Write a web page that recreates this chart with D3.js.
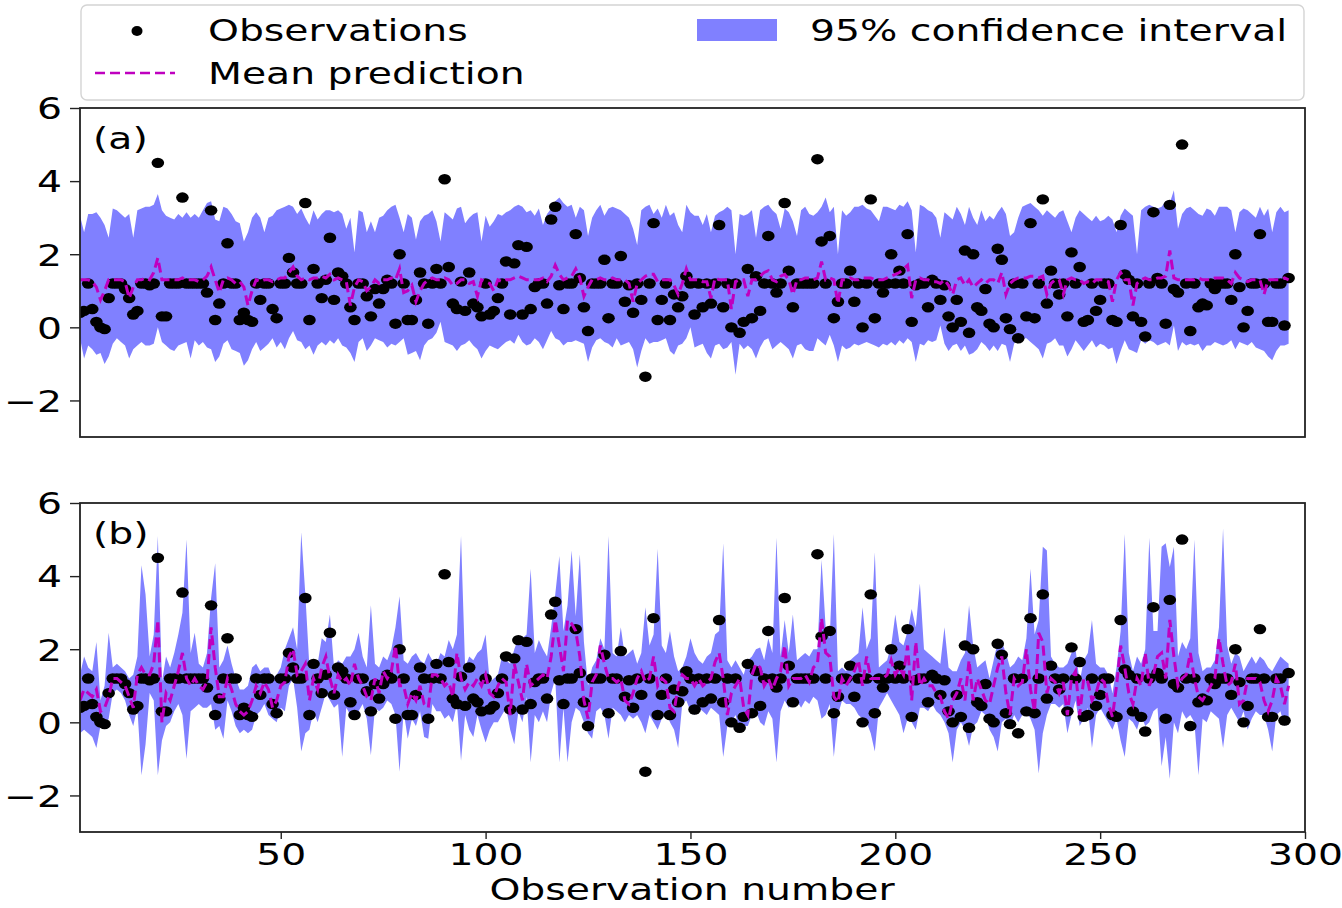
<!DOCTYPE html>
<html>
<head>
<meta charset="utf-8">
<script src="https://cdn.jsdelivr.net/npm/d3@7"></script>
<style>
  body { margin: 0; background: #fff; }
  svg text { font-family: "DejaVu Sans", sans-serif; fill: #000; }
</style>
</head>
<body>
<svg width="1342" height="908"></svg>
<script>
// ==================== DATA ====================
// observation values (same in both panels), observation number = index + 1
var obs = [
  0.4, 0.45, 1.2, 0.5, 0.15, 0.0, -0.05, 0.8, 1.2, 1.2,
  1.2, 1.05, 0.8, 0.35, 0.45, 1.2, 1.2, 1.15, 1.2, 4.5,
  0.3, 0.3, 1.2, 1.2, 1.2, 3.55, 1.2, 1.2, 1.2, 1.2,
  1.2, 0.95, 3.2, 0.2, 0.65, 1.2, 2.3, 1.2, 1.2, 0.2,
  0.4, 0.2, 0.15, 1.2, 0.75, 1.2, 1.2, 0.5, 0.25, 1.2,
  1.2, 1.9, 1.5, 1.2, 1.2, 3.4, 0.2, 1.6, 1.2, 0.8,
  1.3, 2.45, 0.75, 1.5, 1.4, 1.2, 0.55, 0.2, 1.2, 1.2,
  0.85, 0.3, 1.05, 0.65, 1.05, 1.3, 1.2, 0.1, 2.0, 1.2,
  0.2, 0.2, 0.75, 1.5, 1.2, 0.1, 1.2, 1.6, 1.2, 4.05,
  1.65, 0.65, 0.5, 1.25, 0.45, 1.5, 0.65, 0.55, 0.3, 1.2,
  0.35, 0.45, 0.8, 1.2, 1.8, 0.35, 1.75, 2.25, 0.35, 2.2,
  0.5, 1.1, 1.2, 1.2, 0.65, 2.95, 3.3, 1.15, 0.5, 1.2,
  1.2, 2.55, 1.35, 0.55, -0.1, 1.2, 1.2, 1.2, 1.85, 0.25,
  1.2, 1.2, 1.95, 0.7, 1.15, 0.4, 1.2, 0.75, -1.35, 1.2,
  2.85, 0.2, 0.75, 1.2, 0.2, 0.9, 0.55, 0.85, 1.4, 1.2,
  0.35, 1.2, 0.55, 1.2, 0.65, 1.2, 2.8, 0.55, 1.2, 0.0,
  1.2, -0.15, 0.15, 1.6, 0.25, 1.4, 0.45, 1.2, 2.5, 1.2,
  0.95, 1.2, 3.4, 1.55, 0.55, 1.2, 1.2, 1.2, 1.2, 1.2,
  4.6, 2.35, 1.2, 2.5, 0.25, 0.7, 1.2, 1.2, 1.55, 0.7,
  1.2, 0.0, 1.2, 3.5, 0.25, 1.2, 0.95, 1.2, 2.0, 1.2,
  1.55, 1.2, 2.55, 0.15, 1.15, 1.2, 1.2, 0.55, 1.3, 1.2,
  0.75, 1.15, 0.3, 0.0, 0.75, 0.15, 2.1, -0.15, 2.0, 0.55,
  0.45, 1.05, 0.1, 0.0, 2.15, 1.85, 0.25, -0.05, 1.2, -0.3,
  1.2, 0.3, 2.85, 0.25, 1.2, 3.5, 0.65, 1.55, 1.2, 0.9,
  1.2, 0.3, 2.05, 1.2, 1.65, 0.15, 0.2, 1.2, 0.45, 0.75,
  1.2, 1.2, 0.2, 0.15, 2.8, 1.45, 1.3, 0.3, 1.2, 0.15,
  -0.25, 1.2, 3.15, 1.35, 1.2, 0.1, 3.35, 1.05, 0.95, 5.0,
  1.2, -0.1, 1.2, 0.55, 0.65, 0.6, 1.2, 1.05, 1.2, 1.2,
  1.2, 0.75, 2.0, 1.1, 0.0, 0.45, 1.2, 1.2, 2.55, 1.2,
  0.15, 0.15, 1.2, 1.2, 0.05, 1.35
];

// panel (a): mean prediction and 95% interval
var meanA = [
  1.3, 1.3, 1.3, 1.25, 1.1, 0.75, 1.0, 1.3, 1.3, 1.3,
  1.3, 1.25, 0.8, 1.1, 1.3, 1.3, 1.35, 1.3, 1.5, 1.9,
  1.3, 1.3, 1.3, 1.3, 1.3, 1.35, 1.3, 1.3, 1.3, 1.25,
  1.3, 1.4, 1.65, 1.3, 0.95, 1.3, 1.35, 1.3, 1.2, 1.25,
  1.1, 0.6, 1.0, 1.3, 1.25, 1.3, 1.3, 1.25, 1.3, 1.35,
  1.35, 1.5, 1.65, 1.4, 1.3, 1.35, 1.3, 1.35, 1.35, 1.4,
  1.35, 1.45, 1.3, 1.35, 1.3, 1.25, 0.6, 1.1, 1.3, 1.25,
  1.0, 1.1, 1.3, 1.2, 1.3, 1.3, 1.35, 1.3, 1.6, 0.95,
  1.0, 1.15, 0.7, 1.0, 1.2, 1.3, 1.35, 1.3, 1.3, 1.35,
  1.3, 1.15, 1.2, 1.3, 1.3, 1.2, 1.25, 0.85, 1.3, 1.25,
  1.2, 1.0, 1.3, 1.25, 1.3, 1.3, 1.35, 1.4, 1.35, 1.3,
  1.3, 1.3, 1.3, 1.35, 1.25, 1.4, 1.7, 1.45, 1.3, 1.35,
  1.4, 1.6, 1.35, 0.85, 1.1, 1.3, 1.3, 1.35, 1.3, 1.3,
  1.35, 1.3, 1.3, 1.3, 1.2, 0.7, 1.2, 1.3, 1.4, 1.45,
  1.45, 1.25, 1.3, 1.3, 1.3, 1.15, 0.9, 1.2, 1.6, 1.3,
  1.3, 1.3, 1.25, 1.25, 0.8, 1.35, 1.3, 1.3, 1.3, 0.5,
  1.25, 1.3, 1.3, 0.85, 1.3, 1.3, 1.4, 1.5, 1.55, 1.3,
  1.25, 1.4, 1.45, 1.3, 0.9, 1.3, 1.3, 1.35, 1.35, 1.3,
  1.35, 1.8, 1.3, 1.35, 1.3, 0.65, 1.3, 1.3, 1.35, 1.3,
  1.3, 1.35, 1.35, 1.35, 1.3, 1.3, 1.3, 1.35, 1.4, 1.45,
  1.5, 1.6, 1.7, 0.8, 1.3, 1.35, 1.3, 1.3, 1.25, 1.25,
  1.2, 1.3, 1.15, 0.9, 1.3, 1.35, 1.15, 1.3, 1.1, 1.2,
  1.3, 1.2, 1.3, 1.3, 1.2, 1.5, 0.9, 1.2, 1.3, 1.35,
  1.35, 1.35, 1.4, 1.4, 1.35, 1.4, 0.9, 1.2, 1.3, 1.3,
  0.9, 1.3, 1.35, 1.3, 1.3, 1.2, 1.25, 1.2, 1.3, 1.3,
  1.3, 1.25, 0.7, 1.3, 1.5, 1.3, 1.3, 0.6, 1.2, 1.3,
  1.35, 1.3, 1.3, 1.35, 1.35, 1.4, 2.1, 1.35, 1.3, 1.3,
  1.3, 1.3, 1.3, 1.35, 1.3, 1.3, 1.3, 1.35, 1.35, 1.35,
  1.3, 1.2, 1.5, 1.35, 1.3, 1.25, 1.3, 1.3, 1.3, 0.9,
  1.3, 1.3, 1.3, 1.3, 1.35, 1.3
];
var hiA = [
  3.05, 2.6, 3.1, 3.1, 3.15, 3.0, 2.8, 2.45, 3.25, 3.2,
  3.1, 3.0, 3.1, 2.45, 3.2, 3.25, 3.3, 3.3, 3.35, 3.65,
  3.2, 3.05, 3.0, 2.95, 3.1, 3.0, 3.15, 3.0, 3.1, 3.0,
  3.2, 3.4, 3.45, 2.95, 2.9, 3.3, 3.25, 3.1, 2.9, 2.85,
  2.35, 2.6, 3.0, 3.15, 3.0, 2.6, 3.0, 3.05, 3.2, 3.25,
  3.3, 3.35, 3.3, 3.1, 3.25, 3.0, 2.8, 3.2, 2.95, 3.1,
  3.2, 3.2, 3.15, 3.2, 3.1, 2.7, 3.0, 2.05, 3.2, 3.15,
  2.6, 2.9, 2.6, 3.0, 3.05, 3.2, 3.3, 3.35, 3.0, 2.6,
  3.1, 3.0, 2.4, 2.9, 3.05, 3.1, 3.2, 2.9, 2.35, 3.15,
  3.05, 2.95, 3.25, 3.3, 2.85, 3.0, 3.1, 3.15, 2.35, 3.05,
  2.75, 2.9, 3.1, 3.05, 3.15, 3.2, 3.3, 3.35, 3.3, 3.15,
  3.2, 3.05, 3.25, 2.8, 3.1, 3.25, 3.45, 3.55, 3.4, 3.3,
  3.35, 3.0, 3.3, 3.2, 2.5, 3.0, 3.2, 3.35, 3.05, 3.25,
  3.3, 3.25, 3.2, 3.1, 3.0, 2.7, 2.25, 3.2, 3.3, 3.35,
  3.1, 3.25, 3.0, 3.35, 3.05, 3.15, 2.8, 2.6, 3.35, 3.15,
  3.05, 3.05, 2.8, 3.1, 2.6, 3.05, 3.15, 3.2, 3.3, 3.2,
  2.0, 3.1, 3.05, 3.1, 3.2, 2.45, 3.2, 3.3, 3.35, 3.2,
  3.1, 2.7, 3.25, 3.15, 2.9, 2.5, 3.2, 3.3, 3.1, 3.05,
  3.15, 3.3, 3.55, 3.15, 3.3, 2.0, 3.2, 3.05, 3.15, 3.3,
  3.3, 3.35, 3.25, 3.2, 3.05, 2.9, 3.3, 3.3, 3.25, 3.2,
  3.35, 3.3, 3.45, 3.2, 2.05, 3.35, 3.3, 3.2, 3.15, 3.0,
  2.45, 3.15, 3.05, 2.95, 3.3, 3.1, 2.8, 3.3, 3.0, 2.8,
  3.2, 2.9, 3.05, 2.95, 3.15, 3.3, 3.1, 2.5, 2.6, 3.0,
  3.3, 3.35, 3.4, 3.3, 3.2, 3.05, 3.2, 3.1, 3.0, 3.15,
  3.2, 2.9, 2.6, 3.0, 3.2, 3.1, 3.0, 2.9, 3.05, 2.9,
  2.95, 3.05, 2.95, 2.6, 3.05, 3.25, 3.15, 3.05, 2.0, 3.2,
  3.3, 3.35, 3.3, 3.25, 3.3, 3.45, 3.4, 3.75, 2.7, 3.1,
  3.25, 3.3, 3.2, 3.1, 3.05, 3.25, 3.2, 3.05, 3.3, 3.3,
  3.3, 3.2, 2.6, 3.15, 3.25, 3.2, 3.1, 3.0, 3.3, 3.05,
  3.25, 2.6, 3.15, 3.3, 3.15, 3.2
];
var loA = [
  -0.3, -0.85, -0.5, -0.6, -0.75, -0.7, -1.0, -0.8, -0.45, -0.3,
  -0.4, -0.5, -0.85, -0.6, -0.5, -0.4, -0.5, -0.5, -0.45, 0.0,
  -0.4, -0.5, -0.6, -0.65, -0.5, -0.45, -0.4, -0.85, -0.35, -0.5,
  -0.4, -0.55, -0.6, -0.95, -0.8, -0.45, -0.35, -0.6, -0.65, -0.7,
  -1.05, -0.9, -0.6, -0.4, -0.65, -0.55, -0.45, -0.3, -0.55, -0.4,
  -0.6, -0.3, -0.1, -0.35, -0.4, -0.6, -0.5, -0.75, -0.5, -0.4,
  -0.5, -0.35, -0.45, -0.3, -0.5, -0.55, -0.7, -0.95, -0.4, -0.3,
  -0.65, -0.5, -0.3, -0.35, -0.4, -0.55, -0.45, -0.5, -0.4, -0.3,
  -0.75, -0.7, -0.65, -0.9, -0.5, -0.35, -0.3, -0.15, 0.15, -0.4,
  -0.45, -0.5, -0.65, -0.5, -0.45, -0.35, -0.5, -0.6, -0.85, -0.65,
  -0.5, -0.55, -0.6, -0.5, -0.4, -0.35, -0.45, -0.2, -0.4, -0.5,
  -0.45, -0.3, -0.4, -0.6, -0.35, -0.1, -0.3, -0.35, -0.5, -0.4,
  -0.4, -0.35, -0.4, -0.45, -0.95, -0.55, -0.35, -0.3, -0.4, -0.45,
  -0.55, -0.3, -0.5, -0.45, -0.4, -0.6, -1.1, -0.65, -0.3, -0.45,
  -0.4, -0.4, -0.35, -0.3, -0.65, -0.75, -0.5, -0.45, -0.3, 0.0,
  -0.55, -0.5, -0.45, -0.7, -0.85, -0.5, -0.45, -0.6, -0.55, -0.4,
  -1.3, -0.45, -0.6, -0.5, -0.6, -0.85, -0.55, -0.35, -0.3, -0.6,
  -0.5, -0.4, -0.5, -0.6, -0.85, -0.5, -0.45, -0.6, -0.65, -0.65,
  -0.3, -0.4, -0.5, -0.2, -0.5, -0.95, -0.5, -0.6, -0.55, -0.45,
  -0.5, -0.45, -0.4, -0.45, -0.5, -0.55, -0.45, -0.5, -0.4, -0.5,
  -0.35, -0.45, -0.3, -0.4, -0.95, -0.45, -0.5, -0.35, -0.4, -0.35,
  0.05, -0.45, -0.65, -0.5, -0.45, -0.65, -0.5, -0.75, -0.7, -0.6,
  -0.4, -0.5, -0.65, -0.5, -0.65, -0.45, -0.5, -0.95, -0.45, -0.3,
  -0.3, -0.3, -0.4, -0.5, -0.6, -0.85, -0.45, -0.4, -0.3, -0.5,
  -0.5, -0.8, -0.6, -0.35, -0.5, -0.65, -0.5, -0.35, -0.55, -0.45,
  -0.5, -0.6, -0.55, -1.0, -0.65, -0.35, -0.6, -0.65, -0.7, -0.35,
  -0.45, -0.35, -0.4, -0.5, -0.45, -0.4, -0.5, 0.05, -0.65, -0.4,
  -0.5, -0.45, -0.5, -0.45, -0.65, -0.5, -0.5, -0.4, -0.45, -0.5,
  -0.45, -0.35, -0.6, -0.4, -0.45, -0.5, -0.4, -0.55, -0.6, -0.65,
  -0.8, -0.9, -0.65, -0.5, -0.5, -0.45
];

// panel (b): mean prediction and 95% interval
var meanB = [
  0.6, 0.9, 0.8, 0.7, 0.9, 0.3, 0.4, 0.7, 1.2, 1.2,
  1.1, 1.0, 0.7, 0.4, 1.3, 1.5, 1.3, 1.3, 1.6, 2.8,
  0.0, 0.8, 0.6, 1.0, 1.4, 1.9, 1.2, 1.0, 1.2, 1.0,
  0.9, 1.1, 2.6, 1.5, 0.7, 0.7, 1.2, 0.9, 0.5, 0.3,
  0.2, 0.3, 0.6, 1.0, 0.8, 1.1, 0.9, 0.4, 0.6, 1.0,
  1.1, 1.8, 2.0, 1.3, 1.4, 1.6, 0.6, 1.2, 0.9, 1.5,
  1.8, 1.2, 0.8, 1.3, 1.1, 1.2, 1.0, 1.6, 1.2, 1.0,
  0.7, 0.6, 1.2, 0.8, 1.4, 1.2, 1.4, 2.1, 1.0, 1.0,
  0.5, 0.8, 0.6, 1.0, 0.5, 0.4, 1.3, 1.3, 1.2, 1.0,
  1.1, 0.7, 1.9, 1.2, 0.9, 1.1, 1.0, 1.2, 1.0, 1.3,
  0.8, 0.7, 1.0, 1.2, 1.1, 0.2, 1.6, 1.1, 0.6, 1.6,
  1.0, 1.1, 1.2, 1.3, 1.2, 1.8, 2.8, 2.1, 1.4, 2.8,
  2.7, 2.5, 1.8, 0.6, 0.1, 1.1, 1.3, 2.1, 1.6, 1.2,
  1.2, 1.1, 1.2, 0.6, 0.5, 0.8, 1.2, 1.4, 1.1, 1.2,
  1.8, 1.0, 1.2, 1.1, 0.4, 0.3, 1.0, 1.3, 1.2, 1.2,
  1.0, 1.2, 1.0, 1.1, 1.2, 1.65, 1.9, 1.2, 0.2, 0.8,
  1.0, 1.2, 0.4, 0.2, 1.3, 1.6, 1.5, 1.0, 1.2, 0.9,
  1.2, 1.4, 2.1, 1.0, 1.2, 1.2, 1.2, 1.3, 1.1, 1.5,
  1.6, 2.85, 1.9, 1.8, 0.7, 0.55, 1.2, 1.0, 1.2, 1.4,
  1.7, 1.0, 1.8, 1.2, 1.2, 1.2, 1.2, 1.3, 1.7, 1.3,
  1.5, 1.3, 2.1, 0.6, 2.2, 1.0, 1.2, 1.0, 1.0, 0.8,
  0.7, 0.3, 0.1, 0.6, 0.8, 1.2, 0.6, 1.7, 0.6, 1.2,
  0.9, 0.6, 0.5, 1.0, 1.5, 1.8, 0.8, 0.2, 1.2, 1.0,
  1.1, 2.0, 0.9, 0.3, 2.45, 2.2, 0.8, 1.2, 1.1, 0.8,
  1.1, 0.2, 1.2, 1.4, 0.2, 1.2, 1.1, 0.6, 0.8, 1.2,
  1.1, 0.5, 0.15, 1.0, 2.1, 1.5, 0.8, 0.5, 1.2, 1.0,
  1.9, 1.0, 1.3, 1.8, 1.9, 1.2, 2.8, 1.8, 1.0, 1.2,
  1.3, 1.9, 1.2, 0.7, 0.6, 0.8, 1.0, 1.2, 2.3, 1.6,
  1.0, 1.1, 1.6, 0.5, 0.6, 1.2, 1.2, 1.2, 1.1, 0.6,
  0.3, 0.6, 1.2, 1.0, 0.5, 1.0
];
var hiB = [
  1.3, 1.8, 1.5, 1.4, 2.2, 0.6, 1.0, 2.45, 1.5, 1.6,
  1.5, 1.4, 1.2, 1.3, 1.8, 4.3, 3.5, 1.8, 2.4, 5.1,
  1.1, 1.8, 1.5, 1.9, 2.4, 3.0, 5.0, 1.9, 2.45, 1.6,
  1.5, 1.9, 3.4, 4.35, 1.5, 1.7, 2.1, 1.6, 1.2, 0.9,
  0.9, 1.0, 1.5, 1.6, 1.4, 1.5, 1.5, 1.2, 1.3, 1.5,
  2.0, 2.3, 2.6, 2.0, 5.2, 3.5, 1.5, 1.7, 1.6, 2.3,
  2.2, 2.95, 1.5, 1.7, 1.6, 1.8, 1.8, 2.0, 2.45, 1.8,
  1.5, 3.2, 1.6, 1.5, 1.8, 1.7, 2.0, 2.6, 3.45, 1.7,
  1.6, 1.8, 1.9, 1.7, 1.6, 1.9, 1.7, 1.6, 1.9, 1.8,
  2.25, 2.0, 2.4, 5.1, 1.5, 1.8, 1.7, 1.9, 2.0, 2.4,
  1.1, 1.2, 1.3, 1.8, 1.7, 1.6, 2.0, 2.3, 2.3, 2.4,
  4.2, 1.9, 2.25, 2.0, 1.8, 2.6, 3.5, 4.55, 2.5, 3.2,
  4.7, 2.9, 4.6, 2.2, 1.0, 1.5, 1.7, 2.3, 2.0, 5.1,
  1.9, 1.8, 2.6, 1.8, 1.9, 2.0, 1.6, 1.9, 3.15, 2.1,
  2.4, 4.75, 2.1, 1.9, 2.5, 1.8, 1.4, 1.5, 1.8, 2.3,
  1.9, 1.7, 1.6, 1.8, 1.9, 2.4, 2.5, 4.9, 1.7, 1.5,
  1.7, 1.5, 1.3, 1.7, 1.8, 2.0, 2.05, 1.7, 2.3, 1.9,
  5.05, 1.8, 2.8, 1.9, 2.95, 1.7, 1.8, 1.9, 1.8, 2.0,
  2.0, 4.45, 2.6, 2.3, 5.15, 1.4, 1.5, 1.4, 1.7, 1.8,
  1.9, 3.15, 2.0, 2.3, 4.65, 1.5, 1.6, 1.7, 2.1, 2.95,
  2.2, 2.1, 2.5, 3.1, 2.6, 3.8, 2.0, 1.9, 1.8, 1.7,
  1.6, 2.6, 1.5, 1.4, 1.4, 1.7, 1.9, 3.2, 2.1, 1.5,
  1.6, 1.7, 1.2, 1.7, 2.2, 2.2, 1.9, 1.5, 1.6, 1.8,
  1.7, 2.3, 4.2, 2.4, 2.8, 4.8, 4.7, 1.8, 1.6, 1.5,
  1.5, 1.6, 1.9, 2.0, 1.1, 1.7, 1.9, 2.8, 1.6, 1.5,
  1.5, 1.3, 0.8, 1.5, 2.5, 5.15, 1.9, 1.4, 1.8, 1.6,
  2.0, 5.05, 2.5, 2.5, 4.8, 4.9, 4.25, 4.8, 1.8, 2.2,
  2.0, 2.3, 5.0, 1.9, 1.4, 1.5, 1.5, 1.7, 2.6, 5.3,
  2.1, 1.6, 1.9, 1.8, 1.4, 1.6, 1.8, 1.6, 1.8, 1.7,
  1.5, 1.4, 1.6, 1.8, 1.7, 1.6
];
var loB = [
  -0.3, -0.2, -0.3, -0.4, -0.7, -0.1, -0.1, 0.1, 0.8, 0.9,
  0.8, 0.6, 0.2, -0.1, 0.4, -1.45, -0.6, 0.8, 0.6, -1.45,
  -0.5, -0.1, 0.0, 0.3, 0.5, 0.2, -1.0, 0.3, 0.4, 0.5,
  0.4, 0.4, 0.5, -0.2, -0.1, -0.45, 0.6, 0.3, -0.1, -0.3,
  -0.2, -0.3, -0.2, 0.2, 0.3, 0.5, 0.2, 0.1, 0.0, 0.4,
  0.3, 1.0, 1.2, 0.4, -0.8, -0.3, -0.2, 0.3, 0.0, 0.4,
  0.8, 0.6, 0.4, 0.5, -0.95, 0.4, 0.2, 0.3, 0.3, 0.5,
  0.1, -0.9, 0.4, 0.3, 0.4, 0.6, 0.5, 0.2, -1.35, 0.3,
  -0.45, 0.1, -0.1, 0.3, -0.4, -0.45, 0.5, 0.3, 0.3, 0.1,
  0.2, 0.0, 0.5, -1.05, 0.2, -0.2, -0.4, 0.2, -0.2, -0.55,
  -0.2, 0.0, 0.0, 0.2, 0.4, -0.2, -0.6, 0.3, 0.0, 0.7,
  -1.1, 0.2, 0.0, 0.3, 0.0, 0.8, 1.2, -1.1, 0.4, -1.1,
  0.0, 0.4, 0.3, 0.0, -0.3, -0.45, 0.3, 0.4, 0.2, -0.45,
  0.4, 0.3, 0.2, 0.0, 0.2, 0.1, 0.2, 0.0, -0.3, 0.2,
  0.0, -0.2, 0.1, 0.3, 0.0, -0.2, -0.7, 0.5, 0.6, 0.3,
  0.2, 0.4, 0.3, 0.2, 0.4, 0.3, 0.2, -0.95, -0.1, 0.0,
  0.2, -0.2, -0.1, -0.1, 0.2, 0.3, 0.0, -0.1, 0.3, 0.1,
  -1.1, 0.3, 0.6, 0.4, 0.5, 0.6, 0.4, 0.6, 0.5, 0.7,
  0.6, 0.1, 0.2, 0.5, -0.95, 0.2, 0.6, 0.5, 0.5, 0.4,
  0.2, 0.1, 0.0, -0.3, -0.8, 0.4, 0.6, 0.8, 0.6, 0.4,
  0.2, -0.3, 0.1, 0.0, -0.2, 0.4, 0.4, 0.3, 0.5, 0.3,
  0.2, 0.0, -0.3, -1.1, -0.2, 0.0, -0.2, -0.65, -0.1, 0.0,
  0.3, 0.2, -0.2, -0.4, -0.8, 0.0, 0.1, -0.1, 0.2, 0.0,
  0.2, 0.3, 0.1, -0.2, -1.4, -0.3, 0.2, 0.5, 0.5, 0.4,
  0.5, -0.3, 0.2, 0.6, -0.1, 0.1, 0.4, -0.7, 0.2, 0.4,
  0.2, 0.0, -0.2, 0.1, -0.5, -0.95, 0.1, 0.0, -0.2, 0.2,
  -0.1, 0.0, 0.3, 0.4, -1.2, -0.4, -1.55, 0.0, -0.3, 0.3,
  0.1, 0.2, 0.0, -1.45, 0.1, 0.0, 0.3, 0.2, 0.1, -0.7,
  0.2, 0.4, 0.2, 0.0, 0.3, -0.2, 0.1, 0.3, 0.2, 0.2,
  -0.2, -0.8, 0.2, 0.3, -0.1, 0.0
];

var yTicks = [-2, 0, 2, 4, 6];
var xTicks = [50, 100, 150, 200, 250, 300];
var legendLabels = ["Observations", "Mean prediction", "95% confidence interval"];

// ==================== SETUP ====================
var svg = d3.select("svg");
var SX = 1.31;            // the figure is stretched sideways, so is its text
var FONT = 30;
var BAND = "#8080ff", MEAN = "#bf00bf";

var x = d3.scaleLinear().domain([1, 300]).range([80, 1305]);

var panels = [
  { label: "(a)", top: 108, bottom: 437, mean: meanA, lo: loA, hi: hiA, xAxis: false },
  { label: "(b)", top: 503, bottom: 832, mean: meanB, lo: loB, hi: hiB, xAxis: true }
];

function stretched(sel, tx, ty) {
  return sel.attr("transform", "translate(" + tx + "," + ty + ") scale(" + SX + ",1)");
}

panels.forEach(function(p, k) {
  var y = d3.scaleLinear().domain([-3, 6]).range([p.bottom, p.top]);
  var g = svg.append("g");

  g.append("clipPath").attr("id", "clip" + k)
    .append("rect")
    .attr("x", x.range()[0]).attr("y", p.top)
    .attr("width", x.range()[1] - x.range()[0]).attr("height", p.bottom - p.top);

  var plot = g.append("g").attr("clip-path", "url(#clip" + k + ")");

  // confidence band
  var area = d3.area()
    .x(function(d, i) { return x(i + 1); })
    .y0(function(d, i) { return y(p.lo[i]); })
    .y1(function(d, i) { return y(p.hi[i]); });

  plot.append("path")
    .datum(p.mean)
    .attr("d", area)
    .attr("fill", BAND);

  // observations
  plot.selectAll("ellipse")
    .data(obs)
    .enter().append("ellipse")
    .attr("cx", function(d, i) { return x(i + 1); })
    .attr("cy", function(d) { return y(d); })
    .attr("rx", 6.3)
    .attr("ry", 5.2)
    .attr("fill", "#000");

  // mean prediction
  var line = d3.line()
    .x(function(d, i) { return x(i + 1); })
    .y(function(d) { return y(d); });

  plot.append("path")
    .datum(p.mean)
    .attr("d", line)
    .attr("fill", "none")
    .attr("stroke", MEAN)
    .attr("stroke-width", 3)
    .attr("stroke-dasharray", "10,5");

  // y axis
  var ya = g.append("g")
    .attr("transform", "translate(80,0)")
    .call(d3.axisLeft(y).tickValues(yTicks).tickSize(10).tickFormat(d3.format("d")));
  ya.select(".domain").remove();
  ya.selectAll("line").attr("stroke", "#222").attr("stroke-width", 1.4);
  ya.selectAll("text")
    .attr("x", null).attr("dy", "0.36em")
    .attr("font-size", FONT)
    .attr("text-anchor", "end")
    .attr("transform", "translate(-18,0) scale(" + SX + ",1)");

  // x axis labels only under the bottom panel
  if (p.xAxis) {
    var xa = g.append("g")
      .attr("transform", "translate(0," + p.bottom + ")")
      .call(d3.axisBottom(x).tickValues(xTicks).tickSize(7));
    xa.select(".domain").remove();
    xa.selectAll("line").attr("stroke", "#222").attr("stroke-width", 1.4);
    xa.selectAll("text")
      .attr("y", null).attr("dy", null)
      .attr("font-size", FONT)
      .attr("transform", "translate(0,33) scale(" + SX + ",1)");
  }

  // frame
  g.append("rect")
    .attr("x", x.range()[0]).attr("y", p.top)
    .attr("width", x.range()[1] - x.range()[0]).attr("height", p.bottom - p.top)
    .attr("fill", "none")
    .attr("stroke", "#222")
    .attr("stroke-width", 1.8);

  // panel letter
  stretched(g.append("text"), 93, p.top + 41)
    .attr("font-size", FONT)
    .text(p.label);
});

// x axis title
stretched(svg.append("text"), 692, 900)
  .attr("font-size", FONT)
  .attr("text-anchor", "middle")
  .text("Observation number");

/* ==================== LEGEND ==================== */

var legend = svg.append("g");

legend.append("rect")
  .attr("x", 81).attr("y", 5)
  .attr("width", 1223).attr("height", 95)
  .attr("rx", 6)
  .attr("fill", "#fff")
  .attr("stroke", "#d4d4d4")
  .attr("stroke-width", 1.4);

legend.append("ellipse")
  .attr("cx", 137).attr("cy", 31)
  .attr("rx", 5.5).attr("ry", 5)
  .attr("fill", "#000");

legend.append("line")
  .attr("x1", 95).attr("x2", 175)
  .attr("y1", 73).attr("y2", 73)
  .attr("stroke", MEAN)
  .attr("stroke-width", 2.6)
  .attr("stroke-dasharray", "10,5");

legend.append("rect")
  .attr("x", 697).attr("y", 19)
  .attr("width", 80).attr("height", 22)
  .attr("fill", BAND);

stretched(legend.append("text"), 208, 41).attr("font-size", FONT).text(legendLabels[0]);
stretched(legend.append("text"), 208, 84).attr("font-size", FONT).text(legendLabels[1]);
stretched(legend.append("text"), 810, 41).attr("font-size", FONT).text(legendLabels[2]);
</script>
</body>
</html>
